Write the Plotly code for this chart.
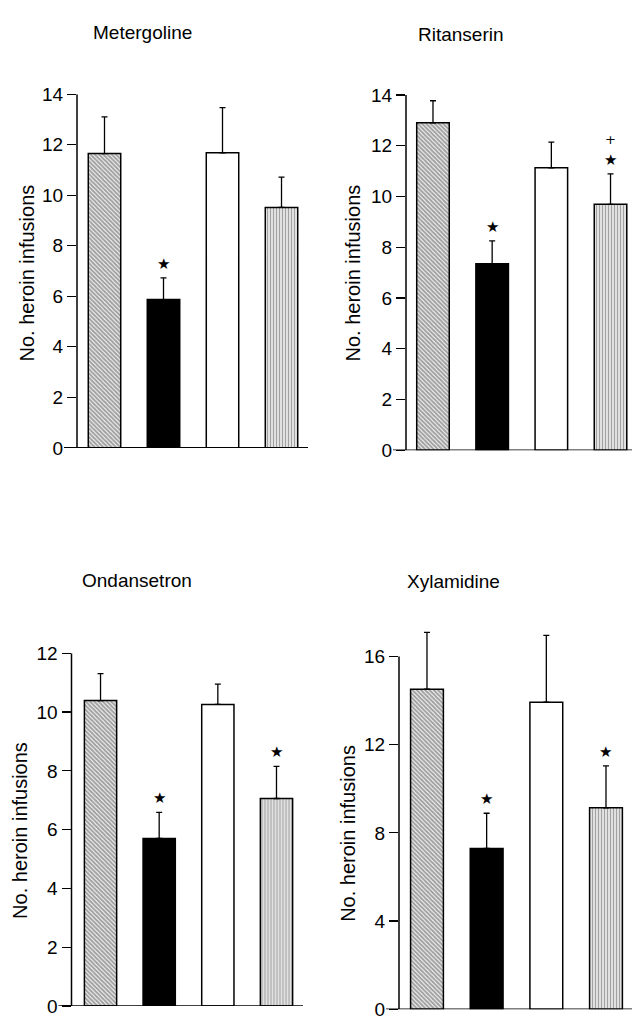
import plotly.graph_objects as go

# ---- data ----
groups = [0, 1, 2, 3]  # four treatment groups (unlabelled bars)
drugs = ["Metergoline", "Ritanserin", "Ondansetron", "Xylamidine"]

metergoline_mean = [11.65, 5.87, 11.68, 9.52]
metergoline_sem = [1.45, 0.86, 1.79, 1.20]
ritanserin_mean = [12.90, 7.35, 11.13, 9.69]
ritanserin_sem = [0.87, 0.90, 1.01, 1.20]
ondansetron_mean = [10.39, 5.70, 10.26, 7.06]
ondansetron_sem = [0.92, 0.89, 0.69, 1.09]
xylamidine_mean = [14.52, 7.29, 13.93, 9.14]
xylamidine_sem = [2.58, 1.60, 3.03, 1.90]

star_flags = [
    [False, True, False, False],
    [False, True, False, True],
    [False, True, False, True],
    [False, True, False, True],
]
plus_flags = [
    [False, False, False, False],
    [False, False, False, True],
    [False, False, False, False],
    [False, False, False, False],
]

y_ranges = [[0, 14], [0, 14], [0, 12], [0, 17.4]]
y_dticks = [2, 2, 2, 4]
y_axis_top = [14, 14, 12, 16]

means = [metergoline_mean, ritanserin_mean, ondansetron_mean, xylamidine_mean]
sems = [metergoline_sem, ritanserin_sem, ondansetron_sem, xylamidine_sem]

# ---- layout geometry (pixels of a 632 x 1029 page) ----
W, H = 632, 1029
px_x = [(77, 308), (406, 632), (71.5, 303), (399, 632)]
px_y = [(447, 86), (449.3, 86.7), (1016.7, 656.7), (1020, 628.5)]
x_ranges = [[-0.466, 3.449], [-0.456, 3.363], [-0.495, 3.452], [-0.469, 3.436]]
title_pos = [(142, 23), (461, 25), (137, 582), (453, 583)]
ytitle_pos = [(27, 269), (353, 269), (20, 838), (348, 841)]

FONT = "Liberation Sans, Arial, Helvetica, sans-serif"

fig = go.Figure()
annotations = []
shapes = []

for i in range(4):
    n = "" if i == 0 else str(i + 1)
    xa, ya = "x" + n, "y" + n
    fig.add_trace(go.Bar(
        x=groups, y=means[i],
        xaxis=xa, yaxis=ya,
        width=0.55,
        marker=dict(
            color=["white", "black", "white", "white"],
            line=dict(color="black", width=1.5),
            pattern=dict(
                shape=["\\", "", "", "|"],
                fgcolor="black",
                size=[3, 3, 3, 3],
                solidity=[0.7, 0.3, 0.3, 0.55],
                fillmode="overlay",
            ),
        ),
        error_y=dict(type="data", symmetric=False, array=sems[i],
                     arrayminus=[0, 0, 0, 0], color="black",
                     thickness=1.3, width=3),
        showlegend=False,
        hoverinfo="skip",
    ))

    x0, x1 = px_x[i]
    yb, yt = px_y[i]
    fig.update_layout(**{
        ("xaxis" + n): dict(domain=[x0 / W, x1 / W], range=x_ranges[i],
                            showticklabels=False, ticks="", showgrid=False,
                            zeroline=False, showline=False,
                            anchor=ya, fixedrange=True),
        ("yaxis" + n): dict(domain=[1 - yb / H, 1 - yt / H], range=y_ranges[i],
                            dtick=y_dticks[i], tick0=0, ticks="outside",
                            ticklen=9, tickwidth=1.2, tickcolor="black",
                            showgrid=False, zeroline=False, showline=False,
                            tickfont=dict(family=FONT, size=19, color="black"),
                            anchor=xa, fixedrange=True),
    })

    # axis lines
    dom_w = x1 - x0
    shapes.append(dict(type="line", xref=xa + " domain", yref=ya,
                       x0=-13 / dom_w, x1=1, y0=0, y1=0,
                       line=dict(color="black", width=1.5)))
    shapes.append(dict(type="line", xref=xa + " domain", yref=ya,
                       x0=0, x1=0, y0=0, y1=y_axis_top[i],
                       line=dict(color="black", width=1.5)))

    # significance markers
    for g, m, s, st, pl in zip(groups, means[i], sems[i], star_flags[i], plus_flags[i]):
        if st:
            annotations.append(dict(x=g, y=m + s, xref=xa, yref=ya, text="★",
                                    showarrow=False, yshift=14,
                                    font=dict(size=15, color="#000000", family="DejaVu Sans")))
        if pl:
            annotations.append(dict(x=g, y=m + s, xref=xa, yref=ya, text="+",
                                    showarrow=False, yshift=34,
                                    font=dict(size=13, color="#000000", family="DejaVu Sans")))

    # panel title
    tx, ty = title_pos[i]
    annotations.append(dict(x=tx / W, y=1 - ty / H, xref="paper", yref="paper",
                            text=drugs[i], showarrow=False,
                            xanchor="center", yanchor="middle",
                            font=dict(family=FONT, size=19, color="black")))
    # y axis title
    ax_, ay_ = ytitle_pos[i]
    annotations.append(dict(x=ax_ / W, y=1 - ay_ / H, xref="paper", yref="paper",
                            text="No. heroin infusions", showarrow=False,
                            textangle=-90, xanchor="center", yanchor="middle",
                            font=dict(family=FONT, size=20, color="black")))

fig.update_layout(
    width=W, height=H,
    margin=dict(l=0, r=0, t=0, b=0),
    paper_bgcolor="white", plot_bgcolor="white",
    annotations=annotations, shapes=shapes,
    bargap=0.2,
)

fig.write_html(
    "out.html",
    config={"displayModeBar": False, "staticPlot": True},
    post_script="document.body.style.margin='0';document.body.style.padding='0';"
                "document.documentElement.style.overflow='hidden';",
)
